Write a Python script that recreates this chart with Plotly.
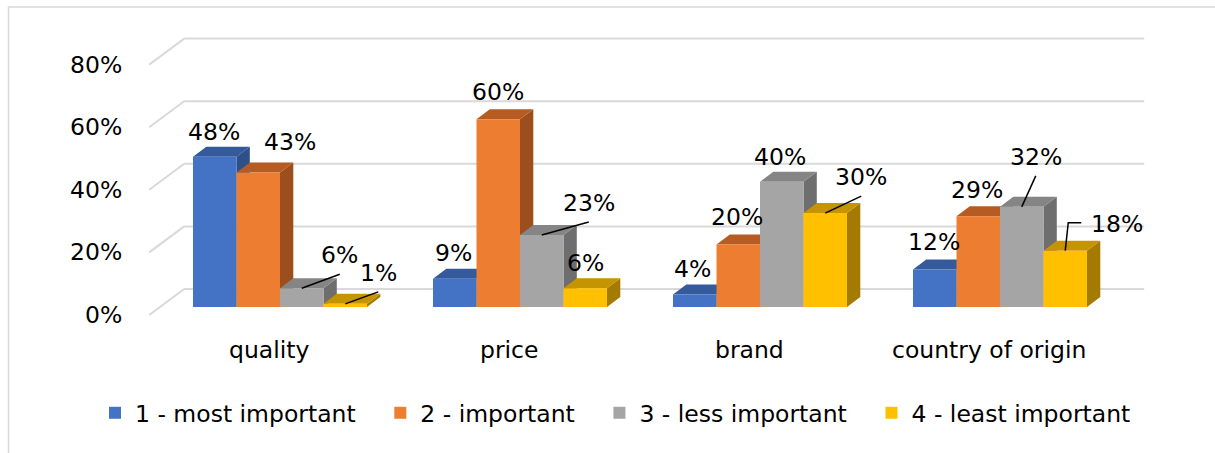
import plotly.graph_objects as go

# ---------------- data ----------------
categories = ["quality", "price", "brand", "country of origin"]
series_names = ["1 - most important", "2 - important", "3 - less important", "4 - least important"]
most_important = [48, 9, 4, 12]
important = [43, 60, 20, 29]
less_important = [6, 23, 40, 32]
least_important = [1, 6, 30, 18]
y_ticks = [0, 20, 40, 60, 80]

series_values = [most_important, important, less_important, least_important]

# ---------------- styles ----------------
front_colors = ["#4472C4", "#ED7D31", "#A5A5A5", "#FFC000"]
top_colors = ["#355A9C", "#B65C22", "#858585", "#C59400"]
side_colors = ["#2E4F8A", "#9C4E1C", "#6E6E6E", "#A47B00"]
FONT = "DejaVu Sans"
FS = 23.5
GRID = "#D9D9D9"
LEGEND_PAD = "\u00a0\u00a0\u2009"  # extra gap after each legend entry

# label offsets (px) from front-top centre of each bar, [series][category]
label_offsets = [
    [(-1, -25), (-1, -26), (-2, -25.5), (-1, -27)],
    [(32, -30), (0, -27), (-1, -27), (-1, -26.5)],
    [(38, -33), (47, -32), (-2, -25), (14, -50)],
    [(33, -31), (0, -25), (36, -36), (52, -27)],
]
leaders = {(2, 0): "straight", (3, 0): "straight", (2, 1): "straight",
           (3, 2): "straight", (2, 3): "straight", (3, 3): "elbow"}

# ---------------- geometry ----------------
W, H = 1215, 453
ML, MR, MT, MB = 140, 55, 20, 123
PX_X = 240.0   # px per category
PX_Y = 3.13    # px per percent
X0 = 280.0     # px of first category centre (bar plane)
Y0 = 307.0     # px of baseline (bar plane)


def px_to_x(px):
    return (px - X0) / PX_X


def py_to_y(py):
    return (Y0 - py) / PX_Y


def paper_x(px):
    return (px - ML) / (W - ML - MR)


def paper_y(py):
    return (H - MB - py) / (H - MT - MB)


x_range = [px_to_x(ML), px_to_x(W - MR)]
y_range = [py_to_y(H - MB), py_to_y(MT)]

BAR_W = 43.5 / PX_X
DDX, DDY = 13.3 / PX_X, 10 / PX_Y
FDX, FDY = -10.8 / PX_X, -8 / PX_Y
BDX, BDY = 24.2 / PX_X, 18 / PX_Y

n = len(categories)
fig = go.Figure()

for k, vals in enumerate(series_values):
    xs = [i + (k - 1.5) * BAR_W for i in range(n)]
    sx, sy, tx, ty = [], [], [], []
    for x, v in zip(xs, vals):
        r = x + BAR_W / 2
        l = x - BAR_W / 2
        sx += [r, r + DDX, r + DDX, r, r, None]
        sy += [0, DDY, v + DDY, v, 0, None]
        tx += [l, l + DDX, r + DDX, r, l, None]
        ty += [v, v + DDY, v + DDY, v, v, None]
    fig.add_trace(go.Scatter(x=sx, y=sy, mode="lines", fill="toself",
                             fillcolor=side_colors[k], line=dict(width=0),
                             hoverinfo="skip", showlegend=False, zorder=2 * k))
    fig.add_trace(go.Scatter(x=tx, y=ty, mode="lines", fill="toself",
                             fillcolor=top_colors[k], line=dict(width=0),
                             hoverinfo="skip", showlegend=False, zorder=2 * k))
    name = series_names[k] + (LEGEND_PAD if k < len(series_names) - 1 else "")
    fig.add_trace(go.Bar(x=xs, y=vals, width=BAR_W, name=name,
                         marker=dict(color=front_colors[k], line=dict(width=0)),
                         zorder=2 * k + 1))

shapes = []
# gridlines: back wall + left side wall
left, right = -0.5, n - 0.5
for t in y_ticks:
    shapes.append(dict(type="line", xref="x", yref="y", layer="below",
                       x0=left + BDX, y0=t + BDY, x1=right + BDX, y1=t + BDY,
                       line=dict(color=GRID, width=2)))
    shapes.append(dict(type="line", xref="x", yref="y", layer="below",
                       x0=left + FDX, y0=t + FDY, x1=left + BDX, y1=t + BDY,
                       line=dict(color=GRID, width=2)))
# chart border
shapes.append(dict(type="rect", xref="paper", yref="paper",
                   x0=paper_x(8.5), y0=paper_y(470), x1=paper_x(1230), y1=paper_y(7),
                   line=dict(color=GRID, width=1.5), fillcolor="rgba(0,0,0,0)"))

annotations = []
# y tick labels (front plane)
for t in y_ticks:
    annotations.append(dict(xref="paper", yref="y", x=paper_x(124), y=t + FDY,
                            text=f"{t}%", showarrow=False, xanchor="right",
                            yanchor="middle", font=dict(family=FONT, size=FS, color="#000")))
# category labels
for i, c in enumerate(categories):
    annotations.append(dict(xref="x", yref="paper", x=i + FDX, y=paper_y(350),
                            text=c, showarrow=False, xanchor="center", yanchor="middle",
                            font=dict(family=FONT, size=FS, color="#000")))
# data labels + leaders
for k, vals in enumerate(series_values):
    for i, v in enumerate(vals):
        bx = i + (k - 1.5) * BAR_W
        dx, dy = label_offsets[k][i]
        lx = bx + dx / PX_X
        ly = v - dy / PX_Y
        annotations.append(dict(xref="x", yref="y", x=lx, y=ly, text=f"{v}%",
                                showarrow=False, xanchor="center", yanchor="middle",
                                font=dict(family=FONT, size=FS, color="#000")))
        kind = leaders.get((k, i))
        if kind == "straight":
            path = f"M{bx},{v} L{lx},{ly - 19 / PX_Y}"
        elif kind == "elbow":
            path = (f"M{bx},{v} L{bx + 3 / PX_X},{ly + 1 / PX_Y} "
                    f"L{lx - 36 / PX_X},{ly + 1 / PX_Y}")
        else:
            continue
        shapes.append(dict(type="path", xref="x", yref="y", path=path, layer="above",
                           line=dict(color="#000", width=1.5)))

fig.update_layout(
    width=W, height=H,
    margin=dict(l=ML, r=MR, t=MT, b=MB, autoexpand=False),
    paper_bgcolor="white", plot_bgcolor="white",
    barmode="overlay",
    xaxis=dict(range=x_range, visible=False, fixedrange=True),
    yaxis=dict(range=y_range, visible=False, fixedrange=True),
    shapes=shapes, annotations=annotations,
    showlegend=True,
    legend=dict(orientation="h", x=paper_x(95), xanchor="left",
                y=paper_y(413), yanchor="middle",
                font=dict(family=FONT, size=FS, color="#000"),
                itemwidth=30, traceorder="normal"),
    font=dict(family=FONT, size=FS, color="#000"),
)

fig.write_html("out.html")
